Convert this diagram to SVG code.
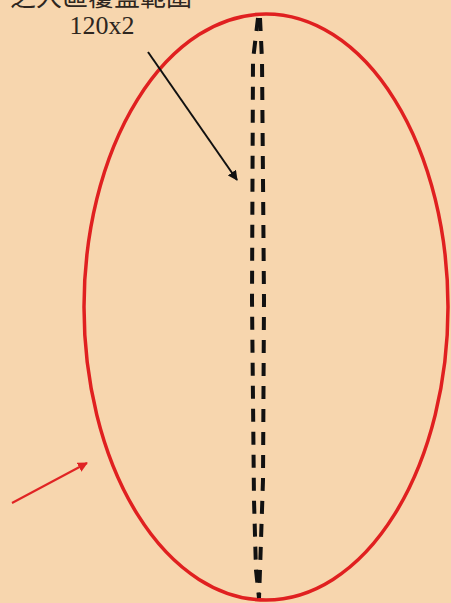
<svg xmlns="http://www.w3.org/2000/svg" width="451" height="603" viewBox="0 0 451 603">
<defs>
<style>
.lbl{font-family:"Liberation Serif","Noto Sans CJK TC",serif;fill:#2e2620}
.dash{fill:none;stroke:#111;stroke-width:4;stroke-dasharray:13 10}
</style>
<marker id="ab" viewBox="0 0 10 10" refX="9" refY="5" markerWidth="5" markerHeight="5" orient="auto"><path d="M0,0 L10,5 L0,10 z" fill="#111"/></marker>
<marker id="ar" viewBox="0 0 10 10" refX="9" refY="5" markerWidth="5" markerHeight="5" orient="auto"><path d="M0,0 L10,5 L0,10 z" fill="#e02424"/></marker>
</defs>
<rect width="451" height="603" fill="#f7d6ae"/>
<g id="coverage">
<ellipse cx="266" cy="307" rx="182" ry="293" fill="none" stroke="#e02020" stroke-width="3.5"/>
</g>
<g id="label">
<text class="lbl" x="101" y="6" font-size="26" text-anchor="middle">之大區覆蓋範圍</text>
<text class="lbl" x="102" y="34" font-size="26" text-anchor="middle">120x2</text>
</g>
<g id="connectors">
<path class="dash" d="M258,18 L253,60 L252,300 L254,500 L256,570 L259,598"/>
<path class="dash" d="M260,18 L262,60 L264,300 L263,480 L260,570 L259,598"/>
<line x1="148" y1="52" x2="237" y2="180" stroke="#111" stroke-width="2" marker-end="url(#ab)"/>
<line x1="12" y1="503" x2="87" y2="463" stroke="#e02424" stroke-width="2" marker-end="url(#ar)"/>
</g>
</svg>
